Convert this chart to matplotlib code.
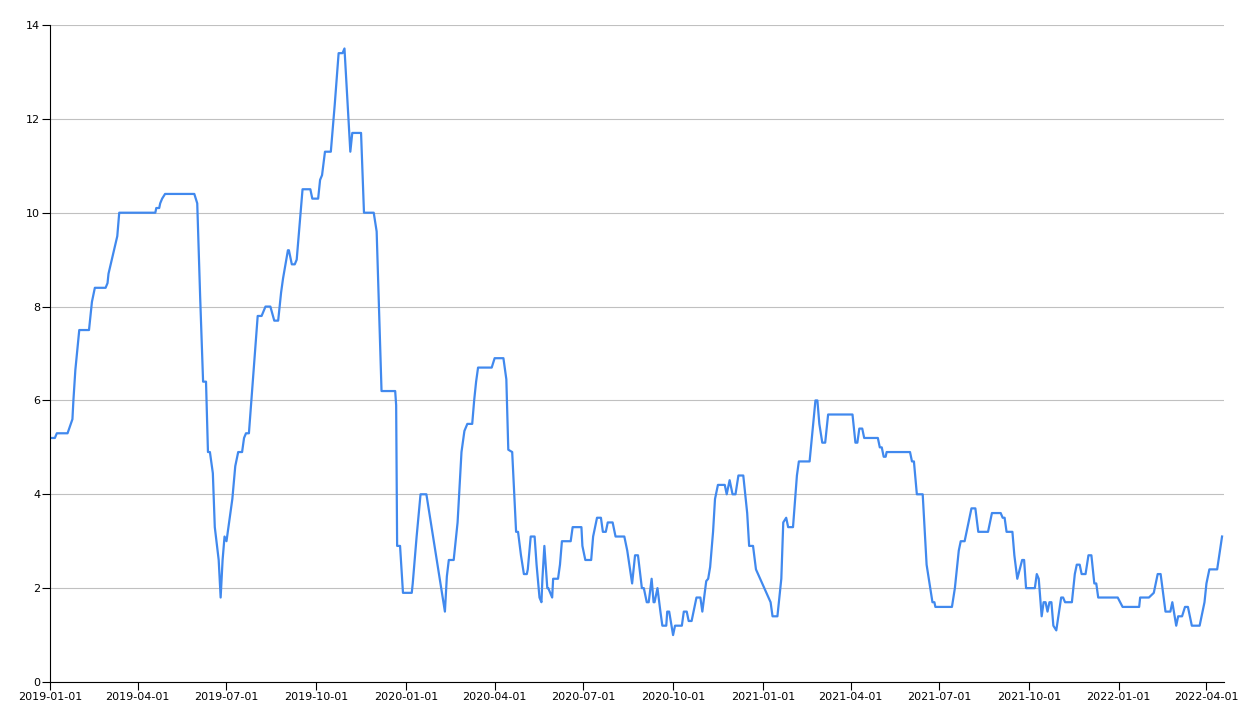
import matplotlib
matplotlib.use("Agg")
import matplotlib.pyplot as plt
import matplotlib.dates as mdates
import pandas as pd

start_date = "2019-01-01"
end_date = "2022-04-19"

# days since 2019-01-01
days = [0, 5, 7, 18, 23, 24, 26, 30, 40, 43, 46, 57, 59, 60, 69, 71, 108, 109, 112, 113,
        115, 118, 148, 151, 154, 157, 160, 162, 164, 167, 169, 173, 175, 177, 179, 181, 187, 190, 193, 197,
        199, 201, 204, 208, 213, 217, 219, 221, 226, 230, 234, 237, 239, 244, 245, 248, 251, 253, 259, 267,
        269, 275, 277, 279, 282, 288, 292, 296, 300, 302, 308, 310, 319, 322, 332, 335, 340, 354, 355, 356,
        359, 362, 371, 372, 376, 380, 386, 405, 407, 409, 414, 418, 422, 425, 428, 433, 435, 437, 439, 453,
        456, 465, 468, 470, 474, 478, 480, 483, 486, 489, 490, 493, 497, 499, 502, 504, 505, 507, 510, 511,
        515, 516, 521, 523, 525, 534, 536, 545, 546, 549, 555, 557, 561, 565, 567, 570, 572, 577, 580, 589,
        592, 597, 600, 603, 607, 609, 612, 614, 617, 619, 620, 623, 626, 628, 632, 633, 635, 639, 641, 648,
        650, 653, 655, 658, 663, 667, 669, 673, 675, 677, 680, 682, 685, 692, 694, 697, 700, 703, 706, 711,
        715, 717, 721, 724, 739, 741, 746, 750, 752, 755, 757, 762, 766, 768, 779, 785, 787, 789, 792, 795,
        798, 823, 826, 828, 830, 833, 835, 849, 851, 853, 855, 857, 858, 882, 884, 886, 889, 895, 899, 905,
        907, 908, 925, 928, 932, 934, 938, 941, 945, 949, 952, 962, 966, 975, 977, 979, 981, 987, 989, 992,
        997, 999, 1001, 1010, 1012, 1014, 1017, 1019, 1021, 1023, 1025, 1027, 1029, 1032, 1037, 1039, 1041, 1048, 1051, 1053,
        1056, 1058, 1062, 1065, 1068, 1071, 1073, 1075, 1095, 1100, 1117, 1118, 1127, 1132, 1136, 1139, 1144, 1149, 1151, 1155,
        1157, 1161, 1164, 1167, 1171, 1179, 1184, 1186, 1189, 1197, 1202]

values = [5.2, 5.2, 5.3, 5.3, 5.6, 6.0, 6.65, 7.5, 7.5, 8.1, 8.4, 8.4, 8.5, 8.7, 9.5, 10.0, 10.0, 10.1, 10.1, 10.2,
          10.3, 10.4, 10.4, 10.2, 8.2, 6.4, 6.4, 4.9, 4.9, 4.45, 3.3, 2.6, 1.8, 2.6, 3.1, 3.0, 3.9, 4.6, 4.9, 4.9,
          5.2, 5.3, 5.3, 6.4, 7.8, 7.8, 7.9, 8.0, 8.0, 7.7, 7.7, 8.3, 8.6, 9.2, 9.2, 8.9, 8.9, 9.0, 10.5, 10.5,
          10.3, 10.3, 10.7, 10.8, 11.3, 11.3, 12.3, 13.4, 13.4, 13.5, 11.3, 11.7, 11.7, 10.0, 10.0, 9.6, 6.2, 6.2, 5.9, 2.9,
          2.9, 1.9, 1.9, 2.1, 3.1, 4.0, 4.0, 1.5, 2.25, 2.6, 2.6, 3.4, 4.9, 5.35, 5.5, 5.5, 6.0, 6.4, 6.7, 6.7,
          6.9, 6.9, 6.45, 4.95, 4.9, 3.2, 3.2, 2.7, 2.3, 2.3, 2.4, 3.1, 3.1, 2.5, 1.8, 1.7, 2.2, 2.9, 2.0, 2.0,
          1.8, 2.2, 2.2, 2.5, 3.0, 3.0, 3.3, 3.3, 2.9, 2.6, 2.6, 3.1, 3.5, 3.5, 3.2, 3.2, 3.4, 3.4, 3.1, 3.1,
          2.8, 2.1, 2.7, 2.7, 2.0, 2.0, 1.7, 1.7, 2.2, 1.7, 1.7, 2.0, 1.5, 1.2, 1.2, 1.5, 1.5, 1.0, 1.2, 1.2,
          1.5, 1.5, 1.3, 1.3, 1.8, 1.8, 1.5, 2.15, 2.2, 2.45, 3.2, 3.9, 4.2, 4.2, 4.0, 4.3, 4.0, 4.0, 4.4, 4.4,
          3.6, 2.9, 2.9, 2.4, 1.7, 1.4, 1.4, 2.2, 3.4, 3.5, 3.3, 3.3, 4.4, 4.7, 4.7, 6.0, 6.0, 5.5, 5.1, 5.1,
          5.7, 5.7, 5.1, 5.1, 5.4, 5.4, 5.2, 5.2, 5.0, 5.0, 4.8, 4.8, 4.9, 4.9, 4.7, 4.7, 4.0, 4.0, 2.5, 1.7,
          1.7, 1.6, 1.6, 2.0, 2.8, 3.0, 3.0, 3.3, 3.7, 3.7, 3.2, 3.2, 3.6, 3.6, 3.5, 3.5, 3.2, 3.2, 2.7, 2.2,
          2.6, 2.6, 2.0, 2.0, 2.3, 2.2, 1.4, 1.7, 1.7, 1.5, 1.7, 1.7, 1.2, 1.1, 1.8, 1.8, 1.7, 1.7, 2.3, 2.5,
          2.5, 2.3, 2.3, 2.7, 2.7, 2.1, 2.1, 1.8, 1.8, 1.6, 1.6, 1.8, 1.8, 1.9, 2.3, 2.3, 1.5, 1.5, 1.7, 1.2,
          1.4, 1.4, 1.6, 1.6, 1.2, 1.2, 1.7, 2.1, 2.4, 2.4, 3.1]

y_ticks = [0, 2, 4, 6, 8, 10, 12, 14]

dates = pd.Timestamp(start_date) + pd.to_timedelta(days, unit="D")

fig = plt.figure(figsize=(12.57, 7.16), dpi=100)
ax = fig.add_axes([50 / 1257, (716 - 682) / 716, (1224 - 50) / 1257, (682 - 25) / 716])

ax.plot(dates, values, color="#4189EE", linewidth=1.6, solid_joinstyle="round")

ax.set_ylim(0, 14)
ax.set_yticks(y_ticks)
ax.set_xlim(pd.Timestamp(start_date), pd.Timestamp(end_date))
ax.xaxis.set_major_locator(mdates.MonthLocator(bymonth=[1, 4, 7, 10], bymonthday=1))
ax.xaxis.set_major_formatter(mdates.DateFormatter("%Y-%m-%d"))

ax.grid(axis="y", color="#C0C0C0", linewidth=0.8)
ax.set_axisbelow(True)
for s in ["top", "right"]:
    ax.spines[s].set_visible(False)
for s in ["left", "bottom"]:
    ax.spines[s].set_color("black")
    ax.spines[s].set_linewidth(0.8)

ax.tick_params(axis="both", colors="black", labelsize=8, length=5.5, width=0.8)
ax.tick_params(axis="y", pad=1.5)
ax.tick_params(axis="x", pad=2)

fig.savefig("out.png", dpi=100)
